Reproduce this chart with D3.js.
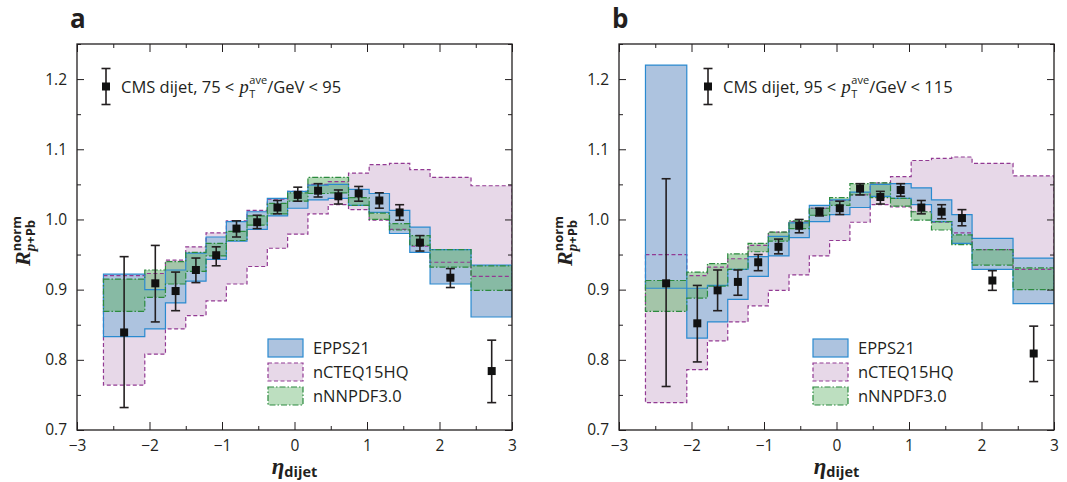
<!DOCTYPE html>
<html>
<head>
<meta charset="utf-8">
<script src="https://cdn.jsdelivr.net/npm/d3@7"></script>
<style>
  body { margin: 0; background: #fff; }
  text { font-family: "Open Sans", "Noto Sans", sans-serif; fill: #231f20; }
</style>
</head>
<body>
<script>
// bin edges and centres in eta_dijet (same for both panels)
let etaEdges = [-2.635, -2.065, -1.78, -1.5, -1.22, -0.94, -0.655, -0.375, -0.095, 0.185, 0.465, 0.745, 1.03, 1.31, 1.59, 1.87, 2.435, 3.0];
let etaCenters = [-2.35, -1.92, -1.64, -1.36, -1.08, -0.8, -0.515, -0.235, 0.045, 0.325, 0.605, 0.885, 1.17, 1.45, 1.73, 2.15, 2.72];

let xTicks = [-3, -2, -1, 0, 1, 2, 3];
let yTicks = [0.7, 0.8, 0.9, 1.0, 1.1, 1.2];

// panel a : 75 < pT/GeV < 95
let aCms   = [0.839, 0.909, 0.898, 0.928, 0.949, 0.987, 0.996, 1.017, 1.035, 1.041, 1.033, 1.037, 1.027, 1.010, 0.967, 0.917, 0.784];
let aCmsLo = [0.732, 0.854, 0.870, 0.910, 0.934, 0.975, 0.987, 1.008, 1.026, 1.032, 1.022, 1.026, 1.016, 0.999, 0.955, 0.903, 0.739];
let aCmsHi = [0.947, 0.963, 0.925, 0.945, 0.961, 0.998, 1.006, 1.027, 1.046, 1.051, 1.042, 1.047, 1.038, 1.021, 0.977, 0.930, 0.828];
let aEppsLo = [0.833, 0.844, 0.881, 0.912, 0.943, 0.969, 0.986, 1.005, 1.016, 1.028, 1.030, 1.020, 1.010, 0.980, 0.953, 0.908, 0.861];
let aEppsHi = [0.922, 0.900, 0.928, 0.952, 0.975, 0.997, 1.011, 1.030, 1.040, 1.049, 1.050, 1.043, 1.037, 1.013, 0.989, 0.957, 0.935];
let aNcteqLo = [0.764, 0.808, 0.844, 0.863, 0.884, 0.908, 0.933, 0.959, 0.979, 1.008, 1.021, 1.014, 0.999, 0.986, 0.962, 0.939, 0.919];
let aNcteqHi = [0.920, 0.923, 0.942, 0.961, 0.981, 0.998, 1.013, 1.029, 1.040, 1.050, 1.054, 1.066, 1.078, 1.080, 1.071, 1.060, 1.048];
let aNnpdfLo = [0.869, 0.889, 0.908, 0.926, 0.948, 0.970, 0.992, 1.008, 1.026, 1.037, 1.038, 1.020, 1.000, 0.985, 0.963, 0.932, 0.899];
let aNnpdfHi = [0.915, 0.928, 0.940, 0.953, 0.966, 0.983, 1.005, 1.023, 1.038, 1.060, 1.060, 1.031, 1.009, 0.994, 0.977, 0.957, 0.934];

// panel b : 95 < pT/GeV < 115
let bCms   = [0.909, 0.852, 0.899, 0.911, 0.939, 0.961, 0.991, 1.011, 1.016, 1.044, 1.032, 1.042, 1.017, 1.011, 1.002, 0.913, 0.809];
let bCmsLo = [0.762, 0.797, 0.870, 0.892, 0.927, 0.951, 0.981, 1.005, 1.007, 1.035, 1.022, 1.033, 1.008, 1.001, 0.991, 0.899, 0.769];
let bCmsHi = [1.058, 0.906, 0.928, 0.928, 0.950, 0.972, 1.000, 1.016, 1.026, 1.051, 1.040, 1.051, 1.027, 1.021, 1.014, 0.927, 0.848];
let bEppsLo = [0.902, 0.831, 0.854, 0.886, 0.919, 0.948, 0.974, 0.997, 1.007, 1.017, 1.033, 1.030, 1.021, 0.997, 0.966, 0.929, 0.880];
let bEppsHi = [1.220, 0.902, 0.906, 0.929, 0.947, 0.976, 0.995, 1.020, 1.028, 1.039, 1.050, 1.051, 1.045, 1.028, 1.007, 0.973, 0.945];
let bNcteqLo = [0.739, 0.786, 0.827, 0.854, 0.877, 0.899, 0.921, 0.948, 0.970, 0.996, 1.021, 1.018, 1.011, 0.996, 0.981, 0.957, 0.929];
let bNcteqHi = [0.950, 0.920, 0.932, 0.944, 0.963, 0.982, 0.997, 1.016, 1.027, 1.035, 1.052, 1.061, 1.084, 1.087, 1.089, 1.080, 1.062];
let bNnpdfLo = [0.869, 0.888, 0.905, 0.929, 0.954, 0.969, 0.987, 1.006, 1.020, 1.035, 1.031, 1.019, 0.999, 0.985, 0.964, 0.935, 0.900];
let bNnpdfHi = [0.913, 0.925, 0.937, 0.951, 0.966, 0.982, 0.998, 1.016, 1.031, 1.051, 1.052, 1.030, 1.011, 0.997, 0.978, 0.957, 0.931];

let legendNames = ["EPPS21", "nCTEQ15HQ", "nNNPDF3.0"];

// styles
let styles = {
  epps:  {fill: "#adc3df", opacity: 1,   stroke: "#2a8ad0", dash: null},
  ncteq: {fill: "#e7d8e8", opacity: 1,   stroke: "#923a93", dash: "4,2.5"},
  nnpdf: {fill: "#62b26a", opacity: 0.5, stroke: "#2c8a3e", dash: "6,2,1.5,2"}
};

let width = 1067, height = 482;
let plotW = 435, plotH = 386, plotTop = 44;

let svg = d3.select("body").append("svg")
    .attr("width", width)
    .attr("height", height);

let panels = [
  {id: "a", left: 77, label: "a", pmin: "75", pmax: "95",
   cms: aCms, cmsLo: aCmsLo, cmsHi: aCmsHi,
   bands: {epps: [aEppsLo, aEppsHi], ncteq: [aNcteqLo, aNcteqHi], nnpdf: [aNnpdfLo, aNnpdfHi]},
   noteX: 29, legendX: 191},
  {id: "b", left: 619, label: "b", pmin: "95", pmax: "115",
   cms: bCms, cmsLo: bCmsLo, cmsHi: bCmsHi,
   bands: {epps: [bEppsLo, bEppsHi], ncteq: [bNcteqLo, bNcteqHi], nnpdf: [bNnpdfLo, bNnpdfHi]},
   noteX: 89, legendX: 194}
];

panels.forEach(drawPanel);

function drawPanel(p) {
  let xScale = d3.scaleLinear().domain([-3, 3]).range([0, plotW]);
  let yScale = d3.scaleLinear().domain([0.7, 1.25]).range([plotH, 0]);

  let g = svg.append("g").attr("transform", "translate(" + p.left + "," + plotTop + ")");

  g.append("clipPath").attr("id", "clip-" + p.id)
    .append("rect").attr("width", plotW).attr("height", plotH);

  // step band points: every bin gives two points (left and right edge)
  function steps(lo, hi) {
    let pts = [];
    lo.forEach(function(v, i) {
      pts.push([etaEdges[i], v, hi[i]]);
      pts.push([etaEdges[i + 1], v, hi[i]]);
    });
    return pts;
  }
  let area = d3.area()
    .x(function(d) { return xScale(d[0]); })
    .y0(function(d) { return yScale(d[1]); })
    .y1(function(d) { return yScale(d[2]); });

  let bandG = g.append("g").attr("clip-path", "url(#clip-" + p.id + ")");
  let order = ["ncteq", "epps", "nnpdf"];

  // fills first
  order.forEach(function(k) {
    bandG.append("path")
      .datum(steps(p.bands[k][0], p.bands[k][1]))
      .attr("d", area)
      .attr("fill", styles[k].fill)
      .attr("fill-opacity", styles[k].opacity)
      .attr("stroke", "none");
  });
  // then outlines
  order.forEach(function(k) {
    bandG.append("path")
      .datum(steps(p.bands[k][0], p.bands[k][1]))
      .attr("d", area)
      .attr("fill", "none")
      .attr("stroke", styles[k].stroke)
      .attr("stroke-width", 1.2)
      .attr("stroke-dasharray", styles[k].dash);
  });

  // CMS points with error bars
  let pts = g.append("g").selectAll("g.pt")
      .data(p.cms.map(function(v, i) { return {x: etaCenters[i], y: v, lo: p.cmsLo[i], hi: p.cmsHi[i]}; }))
    .enter().append("g").attr("class", "pt");
  pts.append("line")
    .attr("x1", function(d) { return xScale(d.x); })
    .attr("x2", function(d) { return xScale(d.x); })
    .attr("y1", function(d) { return yScale(d.lo); })
    .attr("y2", function(d) { return yScale(d.hi); })
    .attr("stroke", "#231f20").attr("stroke-width", 1.6);
  ["lo", "hi"].forEach(function(k) {
    pts.append("line")
      .attr("x1", function(d) { return xScale(d.x) - 4.5; })
      .attr("x2", function(d) { return xScale(d.x) + 4.5; })
      .attr("y1", function(d) { return yScale(d[k]); })
      .attr("y2", function(d) { return yScale(d[k]); })
      .attr("stroke", "#231f20").attr("stroke-width", 1.6);
  });
  pts.append("rect")
    .attr("x", function(d) { return xScale(d.x) - 4; })
    .attr("y", function(d) { return yScale(d.y) - 4; })
    .attr("width", 8).attr("height", 8)
    .attr("fill", "#111");

  // axes, ticks pointing inside on all four sides
  let minorX = [-2.5, -1.5, -0.5, 0.5, 1.5, 2.5];
  let minorY = [0.75, 0.85, 0.95, 1.05, 1.15, 1.25];
  function styleAxis(sel) {
    sel.select(".domain").remove();
    sel.selectAll("line").attr("stroke", "#231f20").attr("stroke-width", 1);
    sel.selectAll("text").style("font-size", "15.5px").attr("fill", "#231f20");
  }
  g.append("g").attr("transform", "translate(0," + plotH + ")")
    .call(d3.axisBottom(xScale).tickValues(xTicks).tickSize(-8).tickPadding(10).tickFormat(d3.format("d")))
    .call(styleAxis);
  g.append("g").attr("transform", "translate(0," + plotH + ")")
    .call(d3.axisBottom(xScale).tickValues(minorX).tickSize(-4).tickFormat(""))
    .call(styleAxis);
  g.append("g")
    .call(d3.axisTop(xScale).tickValues(xTicks).tickSize(-8).tickFormat(""))
    .call(styleAxis);
  g.append("g")
    .call(d3.axisTop(xScale).tickValues(minorX).tickSize(-4).tickFormat(""))
    .call(styleAxis);
  g.append("g")
    .call(d3.axisLeft(yScale).tickValues(yTicks).tickSize(-7).tickPadding(10).tickFormat(d3.format(".1f")))
    .call(styleAxis);
  g.append("g")
    .call(d3.axisLeft(yScale).tickValues(minorY).tickSize(-4).tickFormat(""))
    .call(styleAxis);
  g.append("g").attr("transform", "translate(" + plotW + ",0)")
    .call(d3.axisRight(yScale).tickValues(yTicks).tickSize(-7).tickFormat(""))
    .call(styleAxis);
  g.append("g").attr("transform", "translate(" + plotW + ",0)")
    .call(d3.axisRight(yScale).tickValues(minorY).tickSize(-4).tickFormat(""))
    .call(styleAxis);

  // frame
  g.append("rect")
    .attr("width", plotW).attr("height", plotH)
    .attr("fill", "none").attr("stroke", "#231f20").attr("stroke-width", 1.3);

  // panel letter
  g.append("text")
    .attr("x", -7).attr("y", -16)
    .style("font-size", "26px").style("font-weight", "bold")
    .text(p.label);

  // data legend in the top-left corner
  let ny = 42.5;
  let nx = p.noteX;
  g.append("line").attr("x1", nx).attr("x2", nx).attr("y1", ny - 18).attr("y2", ny + 18)
    .attr("stroke", "#231f20").attr("stroke-width", 1.6);
  [-18, 18].forEach(function(o) {
    g.append("line").attr("x1", nx - 4.5).attr("x2", nx + 4.5).attr("y1", ny + o).attr("y2", ny + o)
      .attr("stroke", "#231f20").attr("stroke-width", 1.6);
  });
  g.append("rect").attr("x", nx - 4).attr("y", ny - 4).attr("width", 8).attr("height", 8).attr("fill", "#111");

  // label pieces placed one after another (p with stacked T / ave)
  let tx = nx + 15, base = ny + 6;
  let t1 = g.append("text").attr("x", tx).attr("y", base).style("font-size", "16.5px")
    .text("CMS dijet, " + p.pmin + " <\u00a0");
  tx += t1.node().getComputedTextLength() + 1;
  let tp = g.append("text").attr("x", tx).attr("y", base)
    .style("font-family", "'Liberation Serif', serif").style("font-style", "italic").style("font-size", "18.5px")
    .text("p");
  tx += tp.node().getComputedTextLength() + 0.5;
  let tT = g.append("text").attr("x", tx).attr("y", base + 5).style("font-size", "11px").text("T");
  let tA = g.append("text").attr("x", tx).attr("y", base - 9).style("font-size", "11px").text("ave");
  tx += Math.max(tT.node().getComputedTextLength(), tA.node().getComputedTextLength());
  g.append("text").attr("x", tx).attr("y", base).style("font-size", "16.5px")
    .text("/GeV < " + p.pmax);

  // model legend
  let keys = ["epps", "ncteq", "nnpdf"];
  keys.forEach(function(k, i) {
    let ly = 295 + i * 24;
    g.append("rect").attr("x", p.legendX).attr("y", ly).attr("width", 35).attr("height", 18)
      .attr("fill", styles[k].fill).attr("fill-opacity", k === "nnpdf" ? 0.42 : 1)
      .attr("stroke", styles[k].stroke).attr("stroke-width", 1.2)
      .attr("stroke-dasharray", styles[k].dash);
    g.append("text").attr("x", p.legendX + 45).attr("y", ly + 15)
      .style("font-size", "16.5px").text(legendNames[i]);
  });

  // axis titles
  let xt = g.append("text").attr("x", plotW / 2).attr("y", plotH + 44).attr("text-anchor", "middle");
  xt.append("tspan").style("font-family", "'Liberation Serif', serif").style("font-style", "italic")
    .style("font-weight", "bold").style("font-size", "23px").text("η");
  xt.append("tspan").attr("dy", 3).style("font-weight", "bold").style("font-size", "14.5px").text("dijet");

  let yt = g.append("text")
    .attr("transform", "translate(-47," + (plotH / 2 + 4) + ") rotate(-90)")
    .attr("text-anchor", "middle");
  yt.append("tspan").style("font-family", "'Liberation Serif', serif").style("font-style", "italic")
    .style("font-weight", "bold").style("font-size", "22px").text("R");
  let sup = yt.append("tspan").attr("dy", -9).style("font-weight", "bold").style("font-size", "13px").text("norm");
  let supW = sup.node().getComputedTextLength();
  yt.append("tspan").attr("dx", -supW).attr("dy", 14)
    .style("font-family", "'Liberation Serif', serif").style("font-style", "italic")
    .style("font-weight", "bold").style("font-size", "15px").text("p");
  yt.append("tspan").style("font-weight", "bold").style("font-size", "13px").text("+Pb");
}
</script>
</body>
</html>
